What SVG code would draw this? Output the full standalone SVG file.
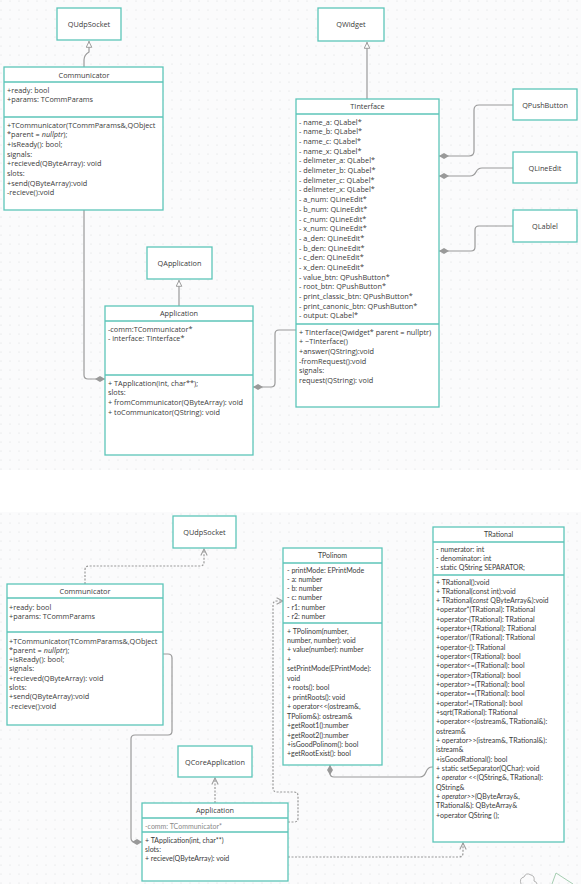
<svg xmlns="http://www.w3.org/2000/svg" width="581" height="884" viewBox="0 0 581 884">
<defs>
<pattern id="grid" width="9" height="9" patternUnits="userSpaceOnUse"><rect width="9" height="9" fill="#fbfbfc"/><circle cx="1" cy="1" r="0.6" fill="#dcdde0"/></pattern>
<marker id="tri" viewBox="0 0 10 10" refX="10" refY="5" markerWidth="8" markerHeight="7" markerUnits="userSpaceOnUse" orient="auto"><path d="M1,1 L9,5 L1,9 Z" fill="#fff" stroke="#9a9a9a" stroke-width="1.4"/></marker>
<marker id="arr" viewBox="0 0 10 10" refX="9" refY="5" markerWidth="8" markerHeight="8" markerUnits="userSpaceOnUse" orient="auto"><path d="M1,1 L9,5 L1,9" fill="none" stroke="#9a9a9a" stroke-width="1.3"/></marker>
<marker id="dia" viewBox="0 0 10 6" refX="0" refY="3" markerWidth="10" markerHeight="6" markerUnits="userSpaceOnUse" orient="auto"><path d="M0,3 L5,0 L10,3 L5,6 Z" fill="#999"/></marker>
</defs>
<style>
.box{fill:#fff;stroke:#5cc5b9;stroke-width:1.3}
.t{font-family:"Open Sans","Noto Sans",sans-serif;font-size:7.3px;fill:#3a3a3a}
.l{font-family:Lato,"Open Sans",sans-serif;font-size:7px;fill:#3a3a3a}
.m{text-anchor:middle}
.c{fill:none;stroke:#9a9a9a;stroke-width:1.2}
.d{stroke-dasharray:2 1.5}
</style>
<rect width="581" height="884" fill="#fff"/>
<rect x="0" y="0" width="581" height="470" fill="url(#grid)"/>
<rect x="0" y="512" width="581" height="372" fill="url(#grid)"/>

<g id="connectors">
<path class="c" d="M84,67 L84,60 Q84,55 89,52 L89,41" marker-end="url(#tri)"/>
<path class="c" d="M179,306 L179,280" marker-end="url(#tri)"/>
<path class="c" d="M367,99 L367,42" marker-end="url(#tri)"/>
<path class="c" d="M105,379 L88,379 Q84,379 84,375 L84,210" marker-start="url(#dia)"/>
<path class="c" d="M253,387 L271,387 Q275,387 275,383 L275,334 Q275,330 279,330 L296,330" marker-start="url(#dia)"/>
<path class="c" d="M439,156 L469,156 Q474,156 474,151 L474,110 Q474,105 479,105 L513,105" marker-start="url(#dia)"/>
<path class="c" d="M439,176 L470,176 Q474,176 476,172 Q478,168 482,168 L513,168" marker-start="url(#dia)"/>
<path class="c" d="M439,251 L471,251 Q475,251 475,247 L475,230 Q475,226 479,226 L513,226" marker-start="url(#dia)"/>

<path class="c d" d="M85,584 L85,570 Q85,566 89,566 L200,566 Q204,566 204,562 L204,549" marker-end="url(#arr)"/>
<path class="c" d="M142,842 L135,842 Q131,842 131,838 L131,739 Q131,735 135,735 L168,735 Q172,735 172,731 L172,658 Q172,654 168,654 L163,654" marker-start="url(#dia)"/>
<path class="c d" d="M215,803 L215,778" marker-end="url(#arr)"/>
<path class="c d" d="M288,822 L294,822 Q298,822 298,818 L298,796 Q298,792 294,792 L277,792 Q273,792 273,788 L273,605 Q273,601 277,601 L283,601" marker-end="url(#arr)"/>
<path class="c d" d="M288,857 L459,857 Q463,857 463,853 L463,843" marker-end="url(#arr)"/>
<path class="c" d="M330,765 L330,773 Q330,777 334,777 L420,777 Q424,777 426,772 Q428,767 432,767 L433,767" marker-start="url(#dia)"/>
</g>

<g id="qudpsocket1"><rect class="box" x="57" y="8" width="64" height="32"/><text class="t m" x="89" y="27">QUdpSocket</text></g>

<g id="communicator1">
<rect class="box" x="4" y="67" width="159" height="143"/>
<line class="box" x1="4" y1="82" x2="163" y2="82"/>
<line class="box" x1="4" y1="117" x2="163" y2="117"/>
<text class="t m" x="84" y="77.5">Communicator</text>
<text class="t" x="7" y="92.5">+ready: bool<tspan x="7" dy="9.7">+params: TCommParams</tspan></text>
<text class="t" x="7" y="127.5">+TCommunicator(TCommParams&amp;,QObject<tspan x="7" dy="9.7">*parent = <tspan font-style="italic">nullptr</tspan>);</tspan><tspan x="7" dy="9.7">+isReady(): bool;</tspan><tspan x="7" dy="9.7">signals:</tspan><tspan x="7" dy="9.7">+recieved(QByteArray): void</tspan><tspan x="7" dy="9.7">slots:</tspan><tspan x="7" dy="9.7">+send(QByteArray):void</tspan><tspan x="7" dy="9.7">-recieve():void</tspan></text>
</g>

<g id="qapplication"><rect class="box" x="147" y="247" width="65" height="32"/><text class="t m" x="179.5" y="266">QApplication</text></g>

<g id="application1">
<rect class="box" x="105" y="306" width="148" height="149"/>
<line class="box" x1="105" y1="321" x2="253" y2="321"/>
<line class="box" x1="105" y1="375" x2="253" y2="375"/>
<text class="t m" x="179" y="316">Application</text>
<text class="t" x="108" y="331.5">-comm:TCommunicator*<tspan x="108" dy="9.8">- interface: TInterface*</tspan></text>
<text class="t" x="108" y="385.5">+ TApplication(int, char**);<tspan x="108" dy="9.7">slots:</tspan><tspan x="108" dy="9.7">+ fromCommunicator(QByteArray): void</tspan><tspan x="108" dy="9.7">+ toCommunicator(QString): void</tspan></text>
</g>

<g id="qwidget"><rect class="box" x="318" y="8" width="66" height="33"/><text class="t m" x="351" y="27">QWidget</text></g>

<g id="tinterface">
<rect class="box" x="296" y="99" width="143" height="308"/>
<line class="box" x1="296" y1="114" x2="439" y2="114"/>
<line class="box" x1="296" y1="324" x2="439" y2="324"/>
<text class="t m" x="367.5" y="109">TInterface</text>
<text class="t" x="299" y="124.5">- name_a: QLabel*<tspan x="299" dy="9.7">- name_b: QLabel*</tspan><tspan x="299" dy="9.7">- name_c: QLabel*</tspan><tspan x="299" dy="9.7">- name_x: QLabel*</tspan><tspan x="299" dy="9.7">- delimeter_a: QLabel*</tspan><tspan x="299" dy="9.7">- delimeter_b: QLabel*</tspan><tspan x="299" dy="9.7">- delimeter_c: QLabel*</tspan><tspan x="299" dy="9.7">- delimeter_x: QLabel*</tspan><tspan x="299" dy="9.7">- a_num: QLineEdit*</tspan><tspan x="299" dy="9.7">- b_num: QLineEdit*</tspan><tspan x="299" dy="9.7">- c_num: QLineEdit*</tspan><tspan x="299" dy="9.7">- x_num: QLineEdit*</tspan><tspan x="299" dy="9.7">- a_den: QLineEdit*</tspan><tspan x="299" dy="9.7">- b_den: QLineEdit*</tspan><tspan x="299" dy="9.7">- c_den: QLineEdit*</tspan><tspan x="299" dy="9.7">- x_den: QLineEdit*</tspan><tspan x="299" dy="9.7">- value_btn: QPushButton*</tspan><tspan x="299" dy="9.7">- root_btn: QPushButton*</tspan><tspan x="299" dy="9.7">- print_classic_btn: QPushButton*</tspan><tspan x="299" dy="9.7">- print_canonic_btn: QPushButton*</tspan><tspan x="299" dy="9.7">- output: QLabel*</tspan></text>
<text class="t" x="299" y="334.5">+ TInterface(Qwidget* parent = nullptr)<tspan x="299" dy="9.7">+ ~TInterface()</tspan><tspan x="299" dy="9.7">+answer(QString):void</tspan><tspan x="299" dy="9.7">-fromRequest():void</tspan><tspan x="299" dy="9.7">signals:</tspan><tspan x="299" dy="9.7">request(QString): void</tspan></text>
</g>

<g id="qpushbutton"><rect class="box" x="513" y="89" width="64" height="31"/><text class="t m" x="545" y="107.5">QPushButton</text></g>
<g id="qlineedit"><rect class="box" x="513" y="152" width="64" height="31"/><text class="t m" x="545" y="170.5">QLineEdit</text></g>
<g id="qlablel"><rect class="box" x="513" y="210" width="64" height="32"/><text class="t m" x="545" y="228.5">QLablel</text></g>

<g id="qudpsocket2"><rect class="box" x="173" y="516" width="63" height="32"/><text class="t m" x="204.5" y="534.5">QUdpSocket</text></g>

<g id="communicator2">
<rect class="box" x="7" y="584" width="156" height="141"/>
<line class="box" x1="7" y1="598" x2="163" y2="598"/>
<line class="box" x1="7" y1="632" x2="163" y2="632"/>
<text class="t m" x="85" y="594">Communicator</text>
<text class="t" x="9" y="609.5">+ready: bool<tspan x="9" dy="9.6">+params: TCommParams</tspan></text>
<text class="t" x="9" y="643.5">+TCommunicator(TCommParams&amp;,QObject<tspan x="9" dy="9.3">*parent = <tspan font-style="italic">nullptr</tspan>);</tspan><tspan x="9" dy="9.3">+isReady(): bool;</tspan><tspan x="9" dy="9.3">signals:</tspan><tspan x="9" dy="9.3">+recieved(QByteArray): void</tspan><tspan x="9" dy="9.3">slots:</tspan><tspan x="9" dy="9.3">+send(QByteArray):void</tspan><tspan x="9" dy="9.3">-recieve():void</tspan></text>
</g>

<g id="qcoreapplication"><rect class="box" x="178" y="746" width="74" height="31"/><text class="t m" x="215" y="764.5">QCoreApplication</text></g>

<g id="application2">
<rect class="box" x="142" y="803" width="146" height="78"/>
<line class="box" x1="142" y1="818" x2="288" y2="818"/>
<line class="box" x1="142" y1="832" x2="288" y2="832"/>
<text class="t m" x="215" y="813">Application</text>
<text class="l" x="145" y="828.5" fill="#8a8a8a" style="fill:#8a8a8a">-comm: TCommunicator*</text>
<text class="l" x="145" y="842.5">+ TApplication(int, char**)<tspan x="145" dy="9.3">slots:</tspan><tspan x="145" dy="9.3">+ recieve(QByteArray): void</tspan></text>
</g>

<g id="tpolinom">
<rect class="box" x="283" y="548" width="99" height="217"/>
<line class="box" x1="283" y1="563" x2="382" y2="563"/>
<line class="box" x1="283" y1="623" x2="382" y2="623"/>
<text class="l m" x="332.5" y="558">TPolinom</text>
<text class="l" x="287" y="572.5">-  printMode: EPrintMode<tspan x="287" dy="9.3">- a: number</tspan><tspan x="287" dy="9.3">- b: number</tspan><tspan x="287" dy="9.3">- c: number</tspan><tspan x="287" dy="9.3">- r1: number</tspan><tspan x="287" dy="9.3">- r2: number</tspan></text>
<text class="l" x="287" y="633.5">+ TPolinom(number,<tspan x="287" dy="9.46">number, number): void</tspan><tspan x="287" dy="9.46">+ value(number): number</tspan><tspan x="287" dy="9.46">+</tspan><tspan x="287" dy="9.46">setPrintMode(EPrintMode):</tspan><tspan x="287" dy="9.46">void</tspan><tspan x="287" dy="9.46">+ roots(): bool</tspan><tspan x="287" dy="9.46">+ printRoots(): void</tspan><tspan x="287" dy="9.46">+ operator&lt;&lt;(ostream&amp;,</tspan><tspan x="287" dy="9.46">TPoliom&amp;): ostream&amp;</tspan><tspan x="287" dy="9.46">+getRoot1():number</tspan><tspan x="287" dy="9.46">+getRoot2():number</tspan><tspan x="287" dy="9.46">+isGoodPolinom(): bool</tspan><tspan x="287" dy="9.46">+getRootExist(): bool</tspan></text>
</g>

<g id="trational">
<rect class="box" x="433" y="527" width="131" height="315"/>
<line class="box" x1="433" y1="542" x2="564" y2="542"/>
<line class="box" x1="433" y1="575" x2="564" y2="575"/>
<text class="l m" x="498.5" y="537">TRational</text>
<text class="l" x="436" y="551.5">-  numerator: int<tspan x="436" dy="9.4">- denominator: int</tspan><tspan x="436" dy="9.4">- static QString SEPARATOR;</tspan></text>
<text class="l" x="436" y="584.5">+ TRational():void<tspan x="436" dy="9.32">+ TRational(const int):void</tspan><tspan x="436" dy="9.32">+ TRational(<tspan font-style="italic">const</tspan> QByteArray&amp;):void</tspan><tspan x="436" dy="9.32">+operator*(TRational): TRational</tspan><tspan x="436" dy="9.32">+operator-(TRational): TRational</tspan><tspan x="436" dy="9.32">+operator+(TRational): TRational</tspan><tspan x="436" dy="9.32">+operator/(TRational): TRational</tspan><tspan x="436" dy="9.32">+operator-(): TRational</tspan><tspan x="436" dy="9.32">+operator&lt;(TRational): bool</tspan><tspan x="436" dy="9.32">+operator&lt;=(TRational): bool</tspan><tspan x="436" dy="9.32">+operator&gt;(TRational): bool</tspan><tspan x="436" dy="9.32">+operator&gt;=(TRational): bool</tspan><tspan x="436" dy="9.32">+operator==(TRational): bool</tspan><tspan x="436" dy="9.32">+operator!=(TRational): bool</tspan><tspan x="436" dy="9.32">+sqrt(TRational): TRational</tspan><tspan x="436" dy="9.32">+operator&lt;&lt;(ostream&amp;, TRational&amp;):</tspan><tspan x="436" dy="9.32">ostream&amp;</tspan><tspan x="436" dy="9.32">+ operator&gt;&gt;(istream&amp;, TRational&amp;):</tspan><tspan x="436" dy="9.32">istream&amp;</tspan><tspan x="436" dy="9.32">+isGoodRational(): bool</tspan><tspan x="436" dy="9.32">+ static setSeparator(QChar):  void</tspan><tspan x="436" dy="9.32">+ <tspan font-style="italic">operator</tspan> &lt;&lt;(QString&amp;, TRational):</tspan><tspan x="436" dy="9.32">QString&amp;</tspan><tspan x="436" dy="9.32">+ <tspan font-style="italic">operator&gt;&gt;</tspan>(QByteArray&amp;,</tspan><tspan x="436" dy="9.32">TRational&amp;): QByteArray&amp;</tspan><tspan x="436" dy="9.32">+operator QString ();</tspan></text>
</g>

<path d="M521,884 Q519,878 524,877 Q526,872 531,875 Q535,876 534,881 Q537,882 537,884" fill="none" stroke="#aaa" stroke-width="0.9"/>
<path d="M552,884 L556,873 L573,884" fill="none" stroke="#9bc7a8" stroke-width="0.9"/>
</svg>
